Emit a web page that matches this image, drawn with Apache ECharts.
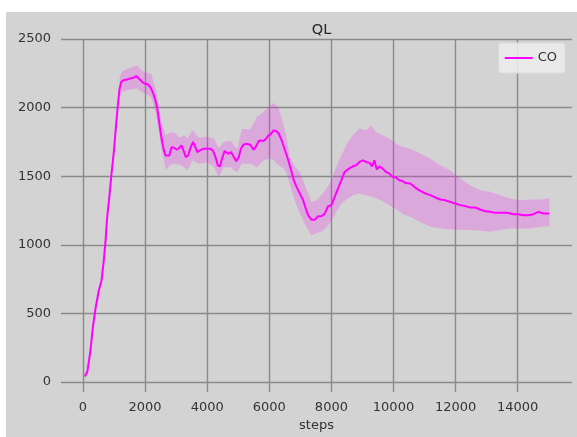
<!DOCTYPE html>
<html><head><meta charset="utf-8">
<script src="https://cdn.jsdelivr.net/npm/echarts@6/dist/echarts.min.js"></script>
<style>
html,body{margin:0;padding:0;background:#fff;}
#wrap{position:relative;width:577px;height:437px;background:#fff;overflow:hidden}
#bg{position:absolute;left:6px;top:12px;right:0;bottom:0;background:#d3d3d3}
#chart{position:absolute;left:0;top:0;width:577px;height:437px}
</style></head><body>
<div id="wrap"><div id="bg"></div><div id="chart"></div></div>
<script>
const chartTitle = 'QL';
const seriesName = 'CO';
const xAxisName = 'steps';
const xTickStep = 2000;
const yTickStep = 500;

const meanSteps = [20,100,200,280,370,470,560,630,690,740,820,880,960,1030,1100,1140,1200,1280,1330,1420,1490,1550,1600,1680,1740,1820,1900,1980,2050,2140,2220,2290,2350,2410,2460,2510,2570,2630,2680,2750,2820,2900,2990,3070,3140,3205,3280,3355,3440,3515,3580,3650,3740,3850,3950,4080,4165,4240,4315,4380,4450,4530,4590,4670,4740,4830,4910,4990,5060,5150,5250,5360,5470,5550,5630,5700,5790,5870,5950,6020,6110,6190,6270,6375,6482,6589,6696,6770,6856,6963,7070,7156,7231,7338,7445,7552,7659,7766,7873,7980,8087,8194,8301,8408,8547,8675,8782,8889,8996,9103,9210,9296,9371,9445,9531,9638,9745,9852,9959,10066,10173,10280,10366,10527,10689,10850,11011,11172,11334,11495,11656,11817,11978,12140,12301,12462,12624,12785,12946,13107,13269,13430,13645,13860,14021,14182,14344,14505,14666,14827,15021];
const meanValues = [40,75,225,400,545,665,740,880,1030,1200,1370,1515,1685,1880,2050,2135,2190,2200,2194,2206,2213,2206,2218,2230,2218,2200,2180,2174,2170,2148,2108,2060,2005,1910,1830,1758,1690,1650,1640,1651,1712,1707,1693,1707,1724,1688,1639,1651,1712,1749,1717,1676,1688,1700,1700,1700,1683,1639,1578,1571,1627,1683,1676,1663,1676,1639,1610,1639,1700,1732,1737,1729,1693,1717,1756,1761,1756,1773,1798,1805,1834,1829,1815,1762,1689,1616,1531,1470,1422,1373,1324,1264,1215,1183,1183,1208,1208,1227,1281,1288,1349,1410,1470,1531,1555,1572,1580,1604,1616,1604,1597,1572,1616,1548,1572,1555,1531,1519,1495,1490,1470,1465,1451,1447,1417,1393,1374,1362,1345,1330,1325,1313,1301,1289,1282,1272,1272,1257,1245,1240,1233,1233,1233,1223,1223,1216,1216,1223,1240,1228,1228];

const bandSteps = [20,500,1000,1100,1150,1250,1500,1700,1850,2000,2160,2320,2430,2533,2640,2747,2907,3067,3227,3333,3493,3707,3973,4187,4347,4507,4720,4933,5093,5360,5573,5787,5947,6107,6267,6427,6535,6642,6803,6963,7070,7231,7338,7498,7712,7926,8140,8301,8515,8675,8889,9103,9264,9424,9638,9852,10066,10280,10527,10850,11172,11495,11817,12140,12462,12785,13107,13430,13752,14075,14397,14720,15021];
const bandLower = [38,655,1780,1990,2080,2120,2130,2140,2115,2095,2078,1956,1790,1650,1545,1575,1590,1585,1566,1541,1615,1590,1602,1566,1493,1566,1566,1529,1590,1590,1566,1612,1627,1620,1580,1560,1520,1440,1320,1230,1179,1106,1069,1085,1100,1154,1240,1300,1337,1361,1373,1361,1352,1340,1318,1288,1260,1225,1204,1167,1131,1119,1112,1107,1107,1102,1095,1107,1119,1119,1119,1131,1136];
const bandUpper = [44,680,1830,2100,2230,2270,2290,2310,2273,2255,2249,2127,1980,1859,1798,1815,1822,1780,1798,1773,1834,1780,1790,1773,1705,1749,1761,1700,1846,1840,1932,1968,2005,2034,2005,1883,1780,1640,1567,1531,1470,1373,1312,1324,1373,1446,1567,1653,1750,1798,1847,1835,1871,1823,1798,1774,1740,1713,1700,1665,1629,1580,1544,1483,1434,1398,1386,1362,1337,1325,1330,1330,1337];

const chart = echarts.init(document.getElementById('chart'), null, {renderer:'canvas'});
const txt = '#333333';
const font = 'DejaVu Sans';
const gridColor = '#8a8a8a';
const plain = v => String(v);

const option = {
  animation: false,
  backgroundColor: 'transparent',
  textStyle: {fontFamily: font},
  title: {
    text: chartTitle, left: 316.5, top: 18, textAlign: 'center',
    textStyle: {fontFamily: font, fontSize: 14.5, fontWeight: 'normal', color: '#262626'}
  },
  legend: {
    data: [seriesName], right: 12, top: 43, orient: 'vertical',
    icon: 'rect', itemWidth: 28, itemHeight: 2, itemGap: 5,
    padding: [8.5, 8, 8.5, 6],
    backgroundColor: 'rgba(236,236,236,0.85)', borderColor: 'rgba(220,220,220,0.9)', borderWidth: 1, borderRadius: 3,
    textStyle: {fontFamily: font, fontSize: 13, color: txt}
  },
  grid: [
    {left: 61, right: 5, top: 39, bottom: 45, outerBoundsMode: 'none'},
    {left: 83, right: 59.3, top: 39, bottom: 45, outerBoundsMode: 'none'},
    {left: 61, right: 5, top: 39, bottom: 55, outerBoundsMode: 'none'}
  ],
  xAxis: [
    {gridIndex: 0, type: 'value', min: -750, max: 15750, show: true,
     axisLine: {show: false}, axisTick: {show: false}, axisLabel: {show: false}, splitLine: {show: false},
     name: xAxisName, nameLocation: 'middle', nameGap: 27,
     nameTextStyle: {fontFamily: font, fontSize: 13, color: txt}},
    {gridIndex: 1, type: 'value', min: 0, max: 14000, interval: xTickStep,
     axisLine: {show: false}, axisTick: {show: false},
     axisLabel: {fontFamily: font, fontSize: 13, color: txt, margin: 9, formatter: plain},
     splitLine: {show: true, lineStyle: {color: gridColor, width: 1.4}}},
    {gridIndex: 2, type: 'value', min: 0, max: 1, show: false}
  ],
  yAxis: [
    {gridIndex: 0, type: 'value', min: -73, max: 2500, show: false},
    {gridIndex: 1, type: 'value', min: 0, max: 1, show: false},
    {gridIndex: 2, type: 'value', min: 0, max: 2500, interval: yTickStep,
     axisLine: {show: false}, axisTick: {show: false},
     axisLabel: {fontFamily: font, fontSize: 13, color: txt, margin: 10, formatter: plain},
     splitLine: {show: true, lineStyle: {color: gridColor, width: 1.4}}}
  ],
  series: [
    {
      type: 'custom', name: 'band', xAxisIndex: 0, yAxisIndex: 0, silent: true, z: 2,
      data: [[0, 0]],
      renderItem: function (params, api) {
        const pts = [];
        for (let i = 0; i < bandSteps.length; i++) pts.push(api.coord([bandSteps[i], bandUpper[i]]));
        for (let i = bandSteps.length - 1; i >= 0; i--) pts.push(api.coord([bandSteps[i], bandLower[i]]));
        return {type: 'polygon', shape: {points: pts}, style: {fill: 'rgba(255,0,255,0.2)', stroke: null}};
      }
    },
    {
      type: 'line', name: seriesName, xAxisIndex: 0, yAxisIndex: 0, z: 3,
      data: meanSteps.map((s, i) => [s, meanValues[i]]),
      showSymbol: false, symbol: 'none',
      lineStyle: {color: '#ff00ff', width: 2},
      itemStyle: {color: '#ff00ff'}
    }
  ]
};
chart.setOption(option);
</script>
</body></html>
